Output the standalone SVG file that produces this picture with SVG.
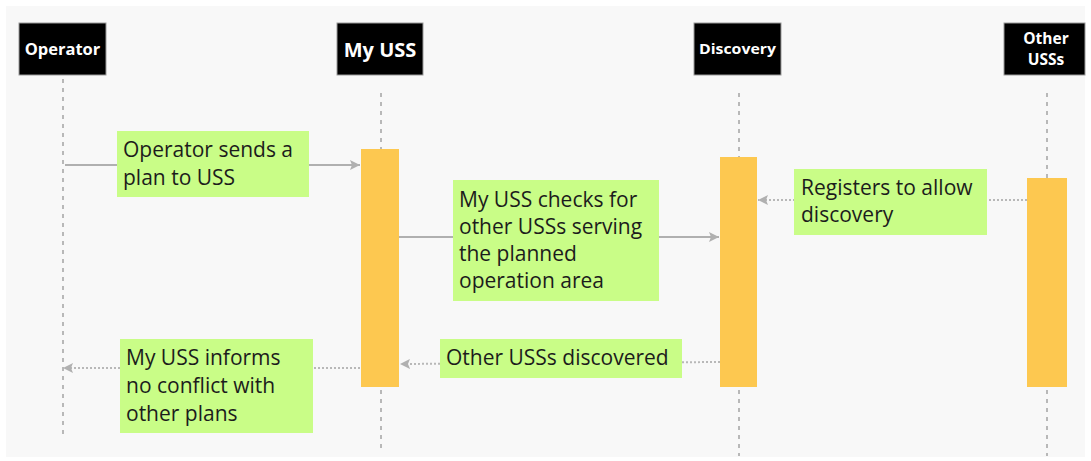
<svg xmlns="http://www.w3.org/2000/svg" width="1091" height="461" viewBox="0 0 1091 461">
<style>
.hdr{fill:#000;stroke:#9a9a9a;stroke-width:1}
.ht{fill:#fff;font-family:"Open Sans","Liberation Sans",sans-serif;font-weight:bold;text-anchor:middle}
.life{stroke:#b8b8b8;stroke-width:2;stroke-dasharray:4 5;fill:none}
.act{fill:#fdc850}
.lbl{fill:#c9fd87}
.lt{fill:#1c1c1c;font-family:"Open Sans","Liberation Sans",sans-serif;font-size:21px}
.solid{stroke:#b0b0b0;stroke-width:2;fill:none}
.dot{stroke:#b8b8b8;stroke-width:2;stroke-dasharray:2 2;fill:none}
</style>
<defs>
<marker id="ah" viewBox="0 0 10 10" refX="10" refY="5" markerWidth="10" markerHeight="10" markerUnits="userSpaceOnUse" orient="auto">
<path d="M0,0 L10,5 L0,10 L2,5 Z" fill="#b0b0b0"/>
</marker>
</defs>
<rect x="6" y="6" width="1079" height="451" fill="#f8f8f8"/>
<g id="lifelines">
<line class="life" x1="63" y1="79" x2="63" y2="438"/>
<line class="life" x1="381" y1="93" x2="381" y2="452"/>
<line class="life" x1="739" y1="93" x2="739" y2="456"/>
<line class="life" x1="1047" y1="93" x2="1047" y2="456"/>
</g>
<g id="node-operator">
<rect class="hdr" x="19" y="23" width="87" height="52"/>
<text class="ht" x="62.5" y="55" font-size="16.5">Operator</text>
</g>
<g id="node-myuss">
<rect class="hdr" x="337" y="23" width="86" height="52"/>
<text class="ht" x="380" y="57" font-size="20">My USS</text>
</g>
<g id="node-discovery">
<rect class="hdr" x="694" y="23" width="87" height="52"/>
<text class="ht" x="737.5" y="54" font-size="15" textLength="77" lengthAdjust="spacingAndGlyphs">Discovery</text>
</g>
<g id="node-otheruss">
<rect class="hdr" x="1004" y="23" width="81" height="52"/>
<text class="ht" x="1046" y="44" font-size="15.5">Other</text>
<text class="ht" x="1046" y="65" font-size="15.5">USSs</text>
</g>
<g id="activations">
<rect class="act" x="361" y="149" width="38" height="238"/>
<rect class="act" x="720" y="157" width="37" height="230"/>
<rect class="act" x="1027" y="178" width="40" height="209"/>
</g>
<g id="connectors">
<line class="solid" x1="65" y1="165" x2="360" y2="165" marker-end="url(#ah)"/>
<line class="solid" x1="399" y1="237" x2="719" y2="237" marker-end="url(#ah)"/>
<line class="dot" x1="1027" y1="200" x2="758" y2="200" marker-end="url(#ah)"/>
<line class="dot" x1="720" y1="362" x2="400" y2="364" marker-end="url(#ah)"/>
<line class="dot" x1="360" y1="368" x2="63" y2="368" marker-end="url(#ah)"/>
</g>
<g id="label-sends">
<rect class="lbl" x="117" y="131" width="192" height="66"/>
<text class="lt" x="123" y="157">Operator sends a</text>
<text class="lt" x="123" y="185">plan to USS</text>
</g>
<g id="label-checks">
<rect class="lbl" x="453" y="180" width="206" height="121"/>
<text class="lt" x="459" y="207">My USS checks for</text>
<text class="lt" x="459" y="234">other USSs serving</text>
<text class="lt" x="459" y="261">the planned</text>
<text class="lt" x="459" y="288">operation area</text>
</g>
<g id="label-registers">
<rect class="lbl" x="794" y="169" width="193" height="66"/>
<text class="lt" x="801" y="195">Registers to allow</text>
<text class="lt" x="801" y="222">discovery</text>
</g>
<g id="label-discovered">
<rect class="lbl" x="440" y="339" width="242" height="39"/>
<text class="lt" x="446" y="365">Other USSs discovered</text>
</g>
<g id="label-informs">
<rect class="lbl" x="120" y="339" width="193" height="94"/>
<text class="lt" x="126" y="365">My USS informs</text>
<text class="lt" x="126" y="393">no conflict with</text>
<text class="lt" x="126" y="421">other plans</text>
</g>
</svg>
